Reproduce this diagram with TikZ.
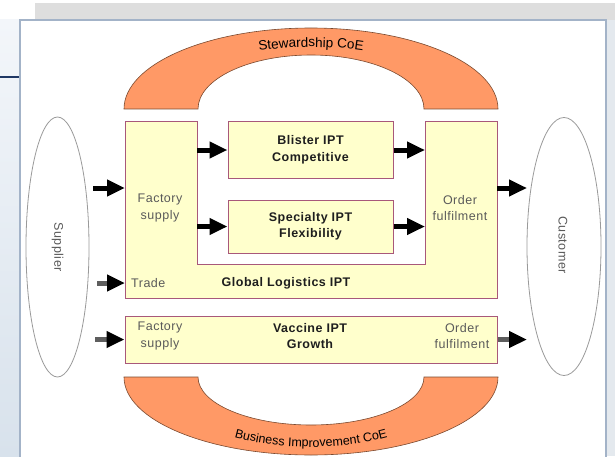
\documentclass[tikz,border=0pt]{standalone}
\usepackage{fontspec}
\setmainfont{Liberation Sans}[LetterSpace=4]
\newfontfamily\arcff{Liberation Sans}
\usetikzlibrary{arrows.meta,shapes.geometric,decorations.text}
\definecolor{boxfill}{HTML}{FFFFCC}
\definecolor{boxline}{HTML}{A8587A}
\definecolor{arcfill}{HTML}{FF9966}
\definecolor{arcline}{HTML}{7A4A30}
\definecolor{panelline}{HTML}{A3B3C8}
\definecolor{bandgray}{HTML}{DEDEDE}
\definecolor{navy}{HTML}{1F3864}
\definecolor{plain}{HTML}{5A5A5A}
\definecolor{heavy}{HTML}{1E1E1E}
\definecolor{shaftgray}{HTML}{5E5E5E}
\definecolor{ellgray}{HTML}{9A9A9A}
\definecolor{sidetop}{HTML}{F3F6FA}
\definecolor{sidebot}{HTML}{D8E2EC}
\definecolor{sideright}{HTML}{E4E9EE}
\newcommand{\arcfont}{\arcff\fontsize{13.5}{15}\selectfont}
\newcommand{\lowarcfont}{\arcff\fontsize{12.5}{14}\selectfont}
\begin{document}
\begin{tikzpicture}[x=1pt,y=1pt,
  box/.style={draw=boxline, fill=boxfill, line width=1pt},
  ipt/.style={box, rectangle, inner sep=0, align=center, text=heavy,
    font=\fontsize{12.5}{16.5}\selectfont\bfseries},
  arcshape/.style={draw=arcline, fill=arcfill, line width=0.6pt},
  lbl/.style={inner sep=0, align=center, text=plain,
    font=\fontsize{12.5}{16.5}\selectfont},
  blbl/.style={lbl, text=heavy, font=\fontsize{12.5}{16.5}\selectfont\bfseries},
  party/.style={ellipse, draw=ellgray, fill=white, line width=0.8pt, inner sep=0},
  arr/.style={line width=5pt, draw=black, -{Triangle[length=18pt 0,width=16pt 0]}},
  garr/.style={line width=5pt, draw=shaftgray, -{Triangle[length=18pt 0,width=16pt 0,color=black]}}
]
\useasboundingbox (0,0) rectangle (615,456);

% page frame around the slide area
\shade[top color=sidetop, bottom color=sidebot] (0,0) rectangle (20,436);
\fill[sideright] (606,0) rectangle (615,436);
\fill[bandgray] (35,436) rectangle (615,453);
\draw[navy, line width=2pt] (0,379) -- (20,379);
\draw[panelline, line width=2pt, fill=white] (20,-10) rectangle (606,436);

% centres of excellence arching over and under the flow
\path[arcshape] (124,347) arc[start angle=180, end angle=0, x radius=187, y radius=81]
  -- (424,347) arc[start angle=0, end angle=180, x radius=113, y radius=54] -- cycle;
\path[decorate, decoration={text along path, text align=center,
    text={|\arcfont|Stewardship CoE}}]
  (161,347) arc[start angle=180, end angle=0, x radius=150, y radius=62];

\path[arcshape] (124,79) arc[start angle=180, end angle=360, x radius=187, y radius=78]
  -- (424,79) arc[start angle=360, end angle=180, x radius=113, y radius=48] -- cycle;
\path[decorate, decoration={text along path, text align=center,
    text={|\lowarcfont|Business Improvement CoE}}]
  (161,79) arc[start angle=180, end angle=360, x radius=150, y radius=70];

% supplier and customer
\node[party, minimum width=63pt, minimum height=260pt] (supplier) at (57.5,209) {};
\node[lbl, rotate=-90] (supLbl) at (supplier) {Supplier};
\node[party, minimum width=74pt, minimum height=258pt] (customer) at (564,209.5) {};
\node[lbl, rotate=-90] (cusLbl) at (563,211) {Customer};

% global logistics frame (U shape)
\coordinate (gNW) at (125,334);
\coordinate (nL) at (197,192);
\coordinate (nR) at (425,192);
\coordinate (gSE) at (497,158);
\path[box] (gNW) -- (197,334) -- (nL) -- (nR) -- (425,334) -- (497,334)
  -- (gSE) -- (125,158) -- cycle;
\node[lbl] (fsText) at (160,248) {Factory\\supply};
\node[lbl] (ofText) at (460,248) {Order\\fulfilment};
\node[lbl, anchor=west] (trade) at (131,173) {Trade};
\node[blbl] (glText) at (286,173) {Global Logistics IPT};

% product IPTs
\node[ipt, minimum width=165pt, minimum height=56pt] (blister) at (310.5,306)
  {Blister IPT\\Competitive};
\node[ipt, minimum width=165pt, minimum height=53pt] (special) at (310.5,229.5)
  {Specialty IPT\\Flexibility};
\node[box, rectangle, inner sep=0, minimum width=372pt, minimum height=47pt]
  (vaccine) at (311,116.5) {};
\node[lbl] (vfs) at (160,120) {Factory\\supply};
\node[blbl] (vText) at (310,120) {Vaccine IPT\\Growth};
\node[lbl] (vof) at (462,120) {Order\\fulfilment};

% material flow
\coordinate (supA) at (93,268);
\coordinate (supB) at (97,173);
\coordinate (supC) at (95,116.5);
\coordinate (cusA) at (527,268);
\coordinate (cusB) at (527,116.5);
\draw[arr] (supA) -- (supA -| gNW);
\draw[garr] (supB) -- (supB -| gNW);
\draw[garr] (supC) -- (vaccine.west);
\draw[arr] (nL |- blister.west) -- (blister.west);
\draw[arr] (nL |- special.west) -- (special.west);
\draw[arr] (blister.east) -- (nR |- blister.east);
\draw[arr] (special.east) -- (nR |- special.east);
\draw[arr] (gSE |- cusA) -- (cusA);
\draw[garr] (vaccine.east) -- (cusB);
\end{tikzpicture}
\end{document}
